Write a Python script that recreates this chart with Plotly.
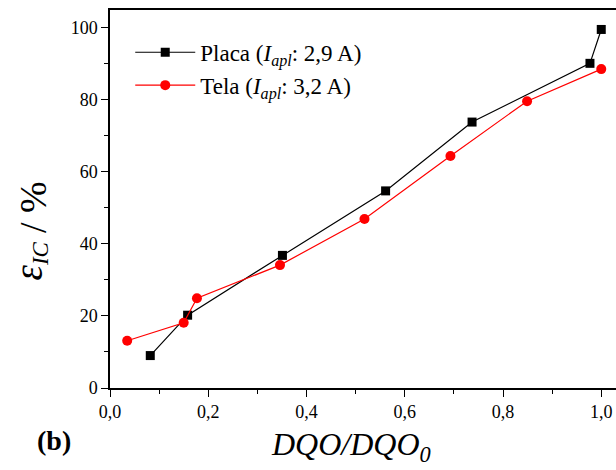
import plotly.graph_objects as go

# Placa electrode (I_apl = 2,9 A)
placa_x = [0.082, 0.158, 0.351, 0.561, 0.737, 0.977, 1.000]
placa_y = [9.0, 20.2, 36.8, 54.7, 73.8, 90.1, 99.5]

# Tela electrode (I_apl = 3,2 A)
tela_x = [0.035, 0.150, 0.177, 0.346, 0.518, 0.693, 0.849, 1.000]
tela_y = [13.1, 18.1, 24.9, 34.1, 46.9, 64.4, 79.6, 88.5]

x_ticks = [0.0, 0.2, 0.4, 0.6, 0.8, 1.0]
x_tick_text = ["0,0", "0,2", "0,4", "0,6", "0,8", "1,0"]
y_ticks = [0, 20, 40, 60, 80, 100]
y_tick_text = ["0", "20", "40", "60", "80", "100"]

serif = "Liberation Serif"

fig = go.Figure()
fig.add_trace(go.Scatter(
    x=placa_x, y=placa_y, mode="lines+markers",
    name="Placa (<i>I</i><sub><i>apl</i></sub>: 2,9 A)",
    line=dict(color="#000000", width=1.2),
    marker=dict(symbol="square", size=9, color="#000000"),
    legendgroup="a",
))
fig.add_trace(go.Scatter(
    x=tela_x, y=tela_y, mode="lines+markers",
    name="Tela (<i>I</i><sub><i>apl</i></sub>: 3,2 A)",
    line=dict(color="#FF0000", width=1.2),
    marker=dict(symbol="circle", size=10, color="#FF0000"),
    legendgroup="b",
))

fig.update_layout(
    xaxis=dict(
        showline=True, linecolor="#000000", linewidth=1.5, mirror=True,
        ticks="outside", ticklen=7, tickwidth=1.2, tickcolor="#000000",
        showgrid=False, zeroline=False,
        range=[0, 1.03], tickmode="array", tickvals=x_ticks, ticktext=x_tick_text,
        tickfont=dict(family=serif, size=18, color="#000000"),
        minor=dict(tickmode="linear", dtick=0.1, tick0=0, ticks="outside", ticklen=4,
                   tickwidth=1.2, tickcolor="#000000", showgrid=False),
    ),
    yaxis=dict(
        showline=True, linecolor="#000000", linewidth=1.5, mirror=False,
        ticks="outside", ticklen=7, tickwidth=1.2, tickcolor="#000000",
        showgrid=False, zeroline=False,
        range=[0, 104.9], tickmode="array", tickvals=y_ticks, ticktext=y_tick_text,
        tickfont=dict(family=serif, size=18, color="#000000"),
        minor=dict(tickmode="linear", dtick=10, tick0=0, ticks="outside", ticklen=4,
                   tickwidth=1.2, tickcolor="#000000", showgrid=False),
    ),
)

# x axis title
fig.add_annotation(
    text="<i>DQO/DQO</i><sub><i>0</i></sub>", xref="paper", yref="paper",
    x=0.476, y=-0.156, xanchor="center", yanchor="middle", showarrow=False,
    font=dict(family=serif, size=32, color="#000000"),
)
# y axis title: symbol with subscript, then the unit
fig.add_annotation(
    text=('<span style="font-size:39px"><i>ε</i></span>'
          '<sub><span style="font-size:23px"><i>IC</i></span></sub>'),
    xref="paper", yref="paper", x=-0.158, y=0.335, textangle=-90,
    xanchor="center", yanchor="middle", showarrow=False,
    font=dict(family=serif, size=30, color="#000000"),
)
fig.add_annotation(
    text="/ %",
    xref="paper", yref="paper", x=-0.152, y=0.479, textangle=-90,
    xanchor="center", yanchor="middle", showarrow=False,
    font=dict(family=serif, size=38, color="#000000"),
)
fig.add_annotation(
    text="<b>(b)</b>", xref="paper", yref="paper", x=-0.111, y=-0.1376,
    xanchor="center", yanchor="middle", showarrow=False,
    font=dict(family=serif, size=28, color="#000000"),
)

fig.update_layout(
    width=616, height=470,
    margin=dict(l=110, r=0, t=10, b=82),
    paper_bgcolor="#FFFFFF", plot_bgcolor="#FFFFFF",
    font=dict(family=serif, size=18, color="#000000"),
    showlegend=True,
    legend=dict(
        x=0.040, y=0.945, xanchor="left", yanchor="top",
        bgcolor="rgba(0,0,0,0)", borderwidth=0,
        font=dict(family=serif, size=23, color="#000000"),
        tracegroupgap=0, itemwidth=60,
    ),
)

fig.write_html("out.html")
